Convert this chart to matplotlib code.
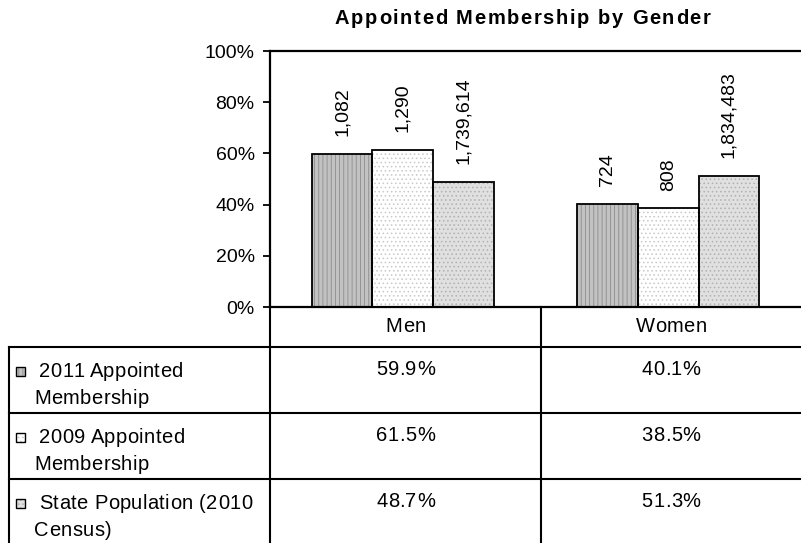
import matplotlib
matplotlib.use("Agg")
import matplotlib.pyplot as plt
from matplotlib.lines import Line2D
from matplotlib.patches import Rectangle
from matplotlib.textpath import TextToPath
from matplotlib.font_manager import FontProperties
import numpy as np

plt.rcParams['font.family'] = ['Liberation Sans', 'DejaVu Sans']
plt.rcParams['hatch.linewidth'] = 0.6

categories = ["Men", "Women"]
series_names = ["2011 Appointed\nMembership", "2009 Appointed\nMembership", "State Population (2010\nCensus)"]
pct_2011 = [59.9, 40.1]
pct_2009 = [61.5, 38.5]
pct_state = [48.7, 51.3]
count_2011 = ["1,082", "724"]
count_2009 = ["1,290", "808"]
count_state = ["1,739,614", "1,834,483"]
yticks = [0, 20, 40, 60, 80, 100]
title = "Appointed Membership by Gender"

series_pct = [pct_2011, pct_2009, pct_state]
series_cnt = [count_2011, count_2009, count_state]
faces = ['#c2c2c2', '#ffffff', '#e0e0e0']
hatch_cols = ['#8c8c8c', '#c8c8c8', '#b0b0b0']
hatches = ['||||', '....', '....']

W, H = 801, 543
DPI = 100
fig = plt.figure(figsize=(W / DPI, H / DPI), dpi=DPI)

def fx(px):
    return px / W

def fy(py):
    return 1 - py / H

ax_left, ax_right, ax_top, ax_bot = 270, 801, 51, 307
ax = fig.add_axes([fx(ax_left), fy(ax_bot), fx(ax_right - ax_left), (ax_bot - ax_top) / H])

x = np.arange(len(categories))
width = 0.228
offsets = [-width, 0, width]
for i in range(3):
    ax.bar(x + offsets[i], series_pct[i], width, color=faces[i], hatch=hatches[i],
           edgecolor=hatch_cols[i], linewidth=0, zorder=2)
    ax.bar(x + offsets[i], series_pct[i], width, fill=False, edgecolor='black',
           linewidth=1.3, zorder=3)
    for j in range(len(categories)):
        ax.text(x[j] + offsets[i], series_pct[i][j] + 7, series_cnt[i][j], rotation=90,
                ha='center', va='bottom', fontsize=14)

ax.set_xlim(-0.5, 1.5)
ax.set_ylim(0, 100)
ax.set_yticks(yticks)
ax.set_yticklabels([f"{v}%" for v in yticks], fontsize=14)
ax.set_xticks([])
ax.tick_params(axis='y', direction='out', length=5, width=1.3, pad=6)
for s in ['left', 'top', 'bottom']:
    ax.spines[s].set_linewidth(1.6)
ax.spines['right'].set_visible(False)

# overlay in pixel coordinates
ov = fig.add_axes([0, 0, 1, 1])
ov.set_xlim(0, W)
ov.set_ylim(H, 0)
ov.axis('off')

t2p = TextToPath()

def text_w(s, size, weight='normal'):
    fp = FontProperties(family='Liberation Sans', size=size, weight=weight)
    w, h, d = t2p.get_text_width_height_descent(s, fp, ismath=False)
    return w * DPI / 72.0

def spaced(xp, yp, s, size, spacing, ha='left', weight='normal', va='baseline'):
    n = len(s)
    total = text_w(s, size, weight) + spacing * (n - 1)
    if ha == 'center':
        x0 = xp - total / 2
    else:
        x0 = xp
    for k, ch in enumerate(s):
        if ch == ' ':
            continue
        off = text_w(s[:k], size, weight) + spacing * k if k > 0 else 0
        ov.text(x0 + off, yp, ch, ha='left', va=va, fontsize=size, fontweight=weight)

# title with letter spacing
spaced(522.5, 24, title, 14.5, 1.6, ha='center', weight='bold')

def hline(y, x0, x1):
    ov.add_line(Line2D([x0, x1], [y, y], color='black', lw=1.5))

def vline(x0, y0, y1):
    ov.add_line(Line2D([x0, x0], [y0, y1], color='black', lw=1.5))

row_tops = [347, 413, 479]
for r in row_tops:
    hline(r, 9, W)
vline(9, 347, H)
vline(270, 307, H)
vline(541, 307, H)

col_centers = [405.5, 671]
for j, c in enumerate(categories):
    spaced(col_centers[j], 332, c, 14.5, 0.5, ha='center')

for i in range(3):
    top = row_tops[i]
    ov.add_patch(Rectangle((16, top + 20), 9, 9, facecolor=faces[i], hatch=hatches[i],
                           edgecolor=hatch_cols[i], lw=0))
    ov.add_patch(Rectangle((16, top + 20), 9, 9, fill=False, edgecolor='black', lw=1.0))
    first, second = series_names[i].split('\n')
    spaced(39, top + 30, first, 14.5, 0.4)
    spaced(34, top + 57, second, 14.5, 0.4)
    for j in range(len(categories)):
        spaced(col_centers[j], top + 28, f"{series_pct[i][j]:.1f}%", 14.5, 0.4, ha='center')

fig.savefig("out.png", dpi=DPI)
